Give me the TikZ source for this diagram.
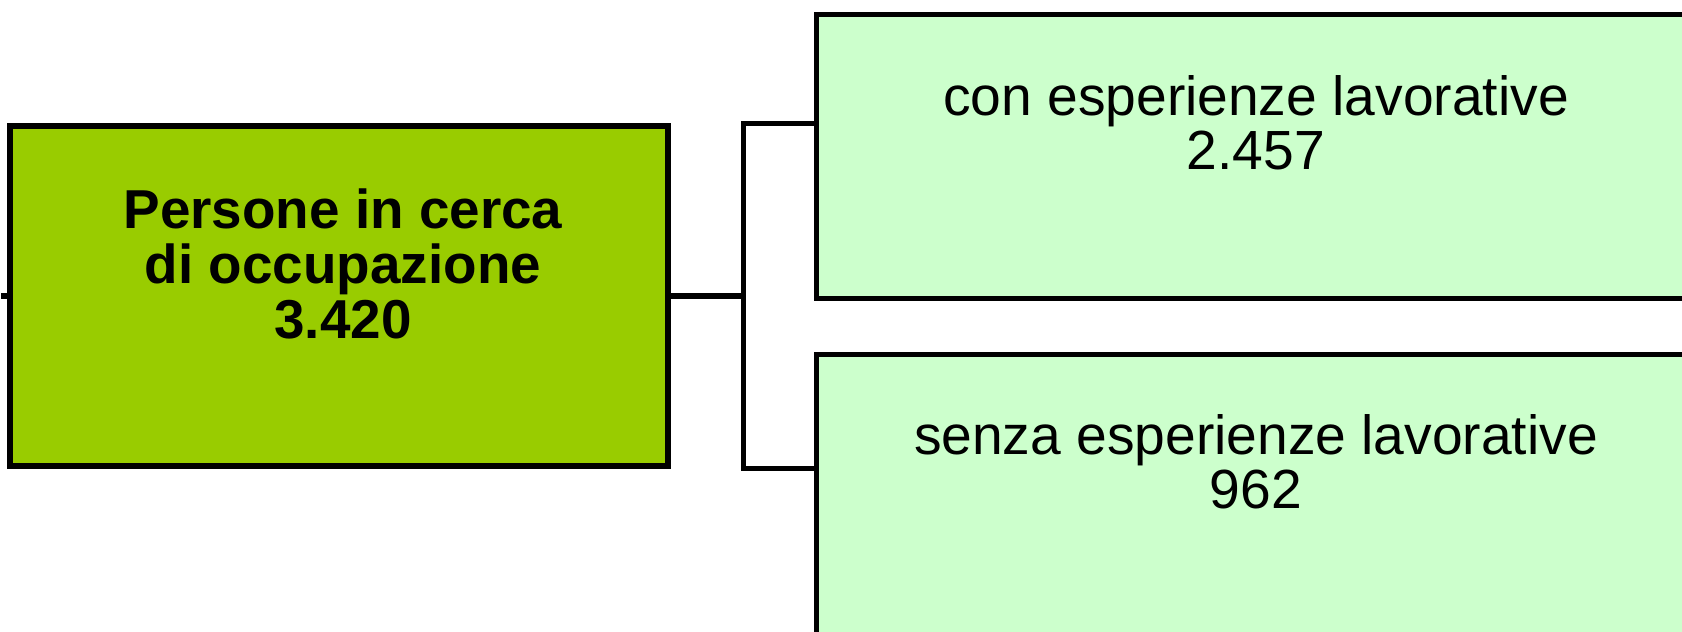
\documentclass[tikz,border=0pt]{standalone}
\usepackage{fontspec}
\setmainfont{Liberation Sans}
\usetikzlibrary{positioning}

\definecolor{mainGreen}{HTML}{99CC00}
\definecolor{paleGreen}{HTML}{CCFFCC}

\begin{document}
\begin{tikzpicture}[
        line width=1.5pt,
        mainbox/.style={draw, fill=mainGreen, minimum width=6.58cm, minimum height=3.40cm, inner sep=0pt},
        subbox/.style={draw, fill=paleGreen, minimum width=9.6cm, minimum height=2.84cm, inner sep=0pt, anchor=north west},
        boxtext/.style={align=center, anchor=north, inner sep=0pt, font=\fontsize{15.7pt}{15.3pt}\selectfont},
        mainlabel/.style={boxtext, font=\fontsize{15.6pt}{15.7pt}\selectfont\bfseries}
    ]
            % Page frame
            \useasboundingbox (0,0) rectangle (16.82,6.32);
            \clip (0,0) rectangle (16.82,6.32);

            % Define the boxes
            \node[mainbox] (main) at (3.39,3.36) {};
            \node[subbox] (con) at (8.14,6.20) {};
            \node[subbox] (senza) at (8.14,2.80) {};

            % Labels
            \node[mainlabel] (mainText) at (3.43,4.46) {Persone in cerca\\di occupazione\\3.420};
            \node[boxtext] (conText) at (12.56,5.59) {con esperienze lavorative\\2.457};
            \node[boxtext] (senzaText) at (12.56,2.20) {senza esperienze lavorative\\962};

            % Connectors
            \path (main.east) ++(0.73,0) coordinate (fork);
            \draw (main.east) -- (fork);
            \draw (con.west |- main.north) -| (fork) |- (senza.west |- main.south);
            \draw (main.west) -- ++(-0.06,0) coordinate (stub);

        \end{tikzpicture}
\end{document}
